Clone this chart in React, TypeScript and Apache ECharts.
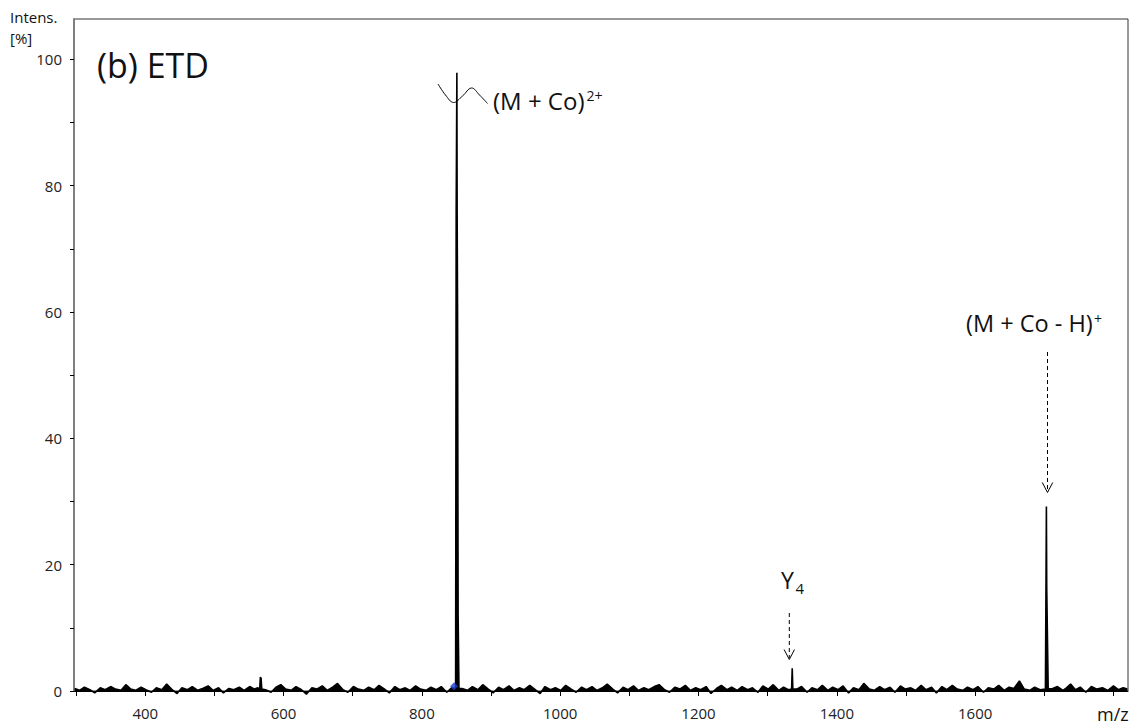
import React, { useEffect, useRef } from "react";
import * as echarts from "echarts";

// ---- data (m/z, intensity %) ----
const BASELINE_NOISE: [number, number][] = [
  [298, 0.4], [305, 0.1], [312, 0.6], [320, 0.2], [327, -0.3], [335, 0.5], [342, 0.2], [350, 0.7],
  [357, 0.3], [365, 0.1], [372, 1.0], [379, 0.3], [386, 0.1], [394, 0.6], [401, 0.2], [409, -0.2],
  [416, 0.5], [424, 0.2], [431, 1.1], [438, 0.3], [446, -0.4], [453, 0.5], [461, 0.2], [468, 0.7],
  [476, 0.1], [483, 0.4], [491, 0.8], [498, 0.1], [506, 0.5], [513, -0.3], [521, 0.4], [528, 0.2],
  [536, 0.6], [543, 0.1], [551, 0.7], [558, 0.3], [563, 0.5], [574, 0.2], [582, -0.2], [589, 0.6],
  [596, 1.0], [603, 0.3], [611, 0.1], [618, 0.7], [626, 0.2], [633, -0.5], [641, 0.5], [648, 0.3],
  [656, 0.8], [663, 0.1], [671, 0.6], [678, 1.2], [686, 0.2], [693, -0.2], [701, 0.7], [708, 0.3],
  [716, 0.1], [723, 0.6], [731, 0.2], [738, 0.9], [746, 0.3], [753, -0.3], [761, 0.7], [768, 0.2],
  [776, 0.5], [783, 0.1], [791, 0.8], [798, 0.3], [806, 0.1], [813, 0.6], [821, 0.2], [828, 0.7],
  [836, -0.2], [843, 0.5], [858, 0.4], [866, 0.1], [873, 0.7], [881, 0.2], [888, 1.0], [896, 0.3],
  [903, -0.3], [911, 0.6], [918, 0.2], [926, 0.8], [933, 0.1], [941, 0.5], [948, 0.2], [956, 0.9],
  [963, 0.3], [971, -0.4], [978, 0.7], [986, 0.2], [993, 0.5], [1001, 0.1], [1008, 0.9], [1016, 0.3],
  [1023, -0.2], [1031, 0.6], [1038, 0.2], [1046, 0.7], [1053, 0.1], [1061, 0.5], [1068, 1.1], [1076, 0.3],
  [1083, -0.3], [1091, 0.6], [1098, 0.2], [1106, 0.8], [1113, 0.1], [1121, 0.5], [1128, 0.2], [1136, 0.7],
  [1143, 1.0], [1151, 0.2], [1158, -0.2], [1166, 0.6], [1173, 0.3], [1181, 0.9], [1188, 0.1], [1196, 0.5],
  [1203, 0.2], [1211, 0.7], [1218, -0.4], [1226, 0.4], [1233, 0.9], [1241, 0.2], [1248, 0.6], [1256, 0.1],
  [1263, 0.7], [1271, 0.2], [1278, 0.5], [1286, -0.2], [1293, 0.8], [1301, 0.3], [1308, 1.0], [1316, 0.1],
  [1323, 0.6], [1330, 0.2], [1342, 0.3], [1349, 0.7], [1357, -0.2], [1364, 0.5], [1372, 0.2], [1379, 0.9],
  [1387, 0.1], [1394, 0.6], [1402, 0.2], [1409, 0.8], [1417, -0.3], [1424, 0.5], [1432, 0.2], [1439, 1.2],
  [1447, 0.3], [1454, 0.1], [1462, 0.7], [1469, 0.2], [1477, 0.6], [1484, -0.2], [1492, 0.8], [1499, 0.3],
  [1507, 0.5], [1514, 0.1], [1522, 0.9], [1529, 0.2], [1537, 0.6], [1544, -0.3], [1552, 0.7], [1559, 0.2],
  [1567, 0.9], [1574, 0.3], [1582, 0.1], [1589, 0.6], [1597, 0.2], [1604, 0.7], [1612, -0.2], [1619, 0.5],
  [1627, 0.3], [1634, 0.9], [1642, 0.1], [1649, 0.6], [1656, 0.4], [1664, 1.6], [1671, 0.3], [1679, 0.1],
  [1686, 0.6], [1694, 0.2], [1712, 0.4], [1719, 0.7], [1727, 0.1], [1732, 0.5], [1738, 1.1], [1745, 0.2],
  [1752, 0.6], [1760, -0.2], [1768, 0.7], [1776, 0.3], [1784, 0.5], [1792, 0.1], [1800, 0.8], [1807, 0.2],
  [1814, 0.5], [1820, 0.3],
];

const PEAK_567: [number, number][] = [[565.5, 0.3], [566.5, 2.2], [567.5, 2.0], [568.5, 0.3]];
const PEAK_851: [number, number][] = [
  [848.8, 0.4], [849.6, 75.8], [850.6, 97.9], [851, 75.8], [851.6, 60], [852.4, 12], [853.6, 0.4],
];
const PEAK_1336: [number, number][] = [[1334.6, 0.3], [1335.5, 3.6], [1336.4, 0.3]];
const PEAK_1704: [number, number][] = [
  [1701.6, 0.3], [1702.4, 16.3], [1703, 29.2], [1703.5, 16.3], [1704.6, 8], [1705.6, 0.3],
];
const MARKER: [number, number][] = [[846.5, 0.75]];

const X_TICKS = [300, 400, 500, 600, 700, 800, 900, 1000, 1100, 1200, 1300, 1400, 1500, 1600, 1700, 1800];
const X_LABELS = [400, 600, 800, 1000, 1200, 1400, 1600];
const Y_TICKS = [0, 10, 20, 30, 40, 50, 60, 70, 80, 90, 100];
const Y_LABELS = [0, 20, 40, 60, 80, 100];

const FONT = "'Open Sans', 'Noto Sans', sans-serif";

export default function App() {
  const ref = useRef<HTMLDivElement>(null);

  useEffect(() => {
    if (!ref.current) return;
    const chart = echarts.init(ref.current, undefined, { renderer: "svg" });

    const spectrum = [...BASELINE_NOISE, ...PEAK_567, ...PEAK_851, ...PEAK_1336, ...PEAK_1704].sort(
      (a, b) => a[0] - b[0]
    );

    const txt = (text: string, x: number, y: number, size: number) => ({
      type: "text",
      x,
      y,
      silent: true,
      style: {
        text,
        fontSize: size,
        fontFamily: FONT,
        fill: "#111",
        align: "left",
        verticalAlign: "middle",
      },
    });

    const dash = (x: number, y1: number, y2: number) => ({
      type: "line",
      silent: true,
      shape: { x1: x, y1, x2: x, y2 },
      style: { stroke: "#000", lineWidth: 1, lineDash: [4, 3] },
    });

    const head = (x: number, y: number) => ({
      type: "polyline",
      silent: true,
      shape: { points: [[x - 5.2, y - 10], [x, y], [x + 5.2, y - 10]] },
      style: { stroke: "#000", lineWidth: 1, fill: "none" },
    });

    chart.setOption({
      animation: false,
      backgroundColor: "#fff",
      grid: {
        left: 74,
        right: 13,
        top: 19,
        bottom: 36,
        show: true,
        borderColor: "#333",
        borderWidth: 1,
      },
      xAxis: {
        type: "value",
        min: 297,
        max: 1821,
        axisLine: { show: true, onZero: false, lineStyle: { color: "#000", width: 1 } },
        axisTick: { show: true, length: 5, customValues: X_TICKS, lineStyle: { color: "#000" } },
        axisLabel: {
          customValues: X_LABELS,
          formatter: (v: number) => String(v),
          fontSize: 15,
          fontFamily: FONT,
          color: "#222",
          margin: 14,
        },
        splitLine: { show: false },
      },
      yAxis: {
        type: "value",
        min: 0,
        max: 106.4,
        axisLine: { show: true, lineStyle: { color: "#7f7f7f", width: 2 } },
        axisTick: { show: true, length: 4, customValues: Y_TICKS, lineStyle: { color: "#000" } },
        axisLabel: {
          customValues: Y_LABELS,
          formatter: (v: number) => String(v),
          fontSize: 15,
          fontFamily: FONT,
          color: "#222",
          margin: 12,
        },
        splitLine: { show: false },
      },
      series: [
        {
          type: "line",
          data: spectrum,
          showSymbol: false,
          clip: false,
          lineStyle: { color: "#000", width: 1.6 },
          areaStyle: { color: "#000", opacity: 1 },
          z: 2,
        },
        {
          type: "scatter",
          data: MARKER,
          symbol: "diamond",
          symbolSize: 8,
          itemStyle: { color: "#1a3fd6" },
          z: 5,
        },
      ],
      graphic: [
        txt("Intens.", 10, 17, 15),
        txt("[%]", 10, 37.5, 15),
        txt("m/z", 1097, 714, 18),
        txt("(b) ETD", 97, 65, 34),
        txt("(M + Co)", 493, 100.3, 24),
        txt("2+", 586.5, 95.5, 14),
        txt("(M + Co - H)", 966, 323, 23.5),
        txt("+", 1094, 318, 14),
        txt("Y", 781, 580, 23),
        txt("4", 795.5, 588, 15),
        {
          type: "polyline",
          silent: true,
          shape: {
            points: [
              [438, 84], [445.5, 95], [453.5, 102.5], [462.5, 96], [471.5, 88], [479.5, 95], [487.5, 103.5],
            ],
            smooth: 0.4,
          },
          style: { stroke: "#000", lineWidth: 1, fill: "none" },
        },
        dash(1047.5, 352, 491),
        head(1047.5, 492.5),
        dash(789.3, 613, 658),
        head(789.3, 659.5),
      ],
    });

    return () => chart.dispose();
  }, []);

  return (
    <div
      ref={ref}
      style={{ position: "fixed", left: 0, top: 0, width: 1141, height: 727, background: "#fff" }}
    />
  );
}
